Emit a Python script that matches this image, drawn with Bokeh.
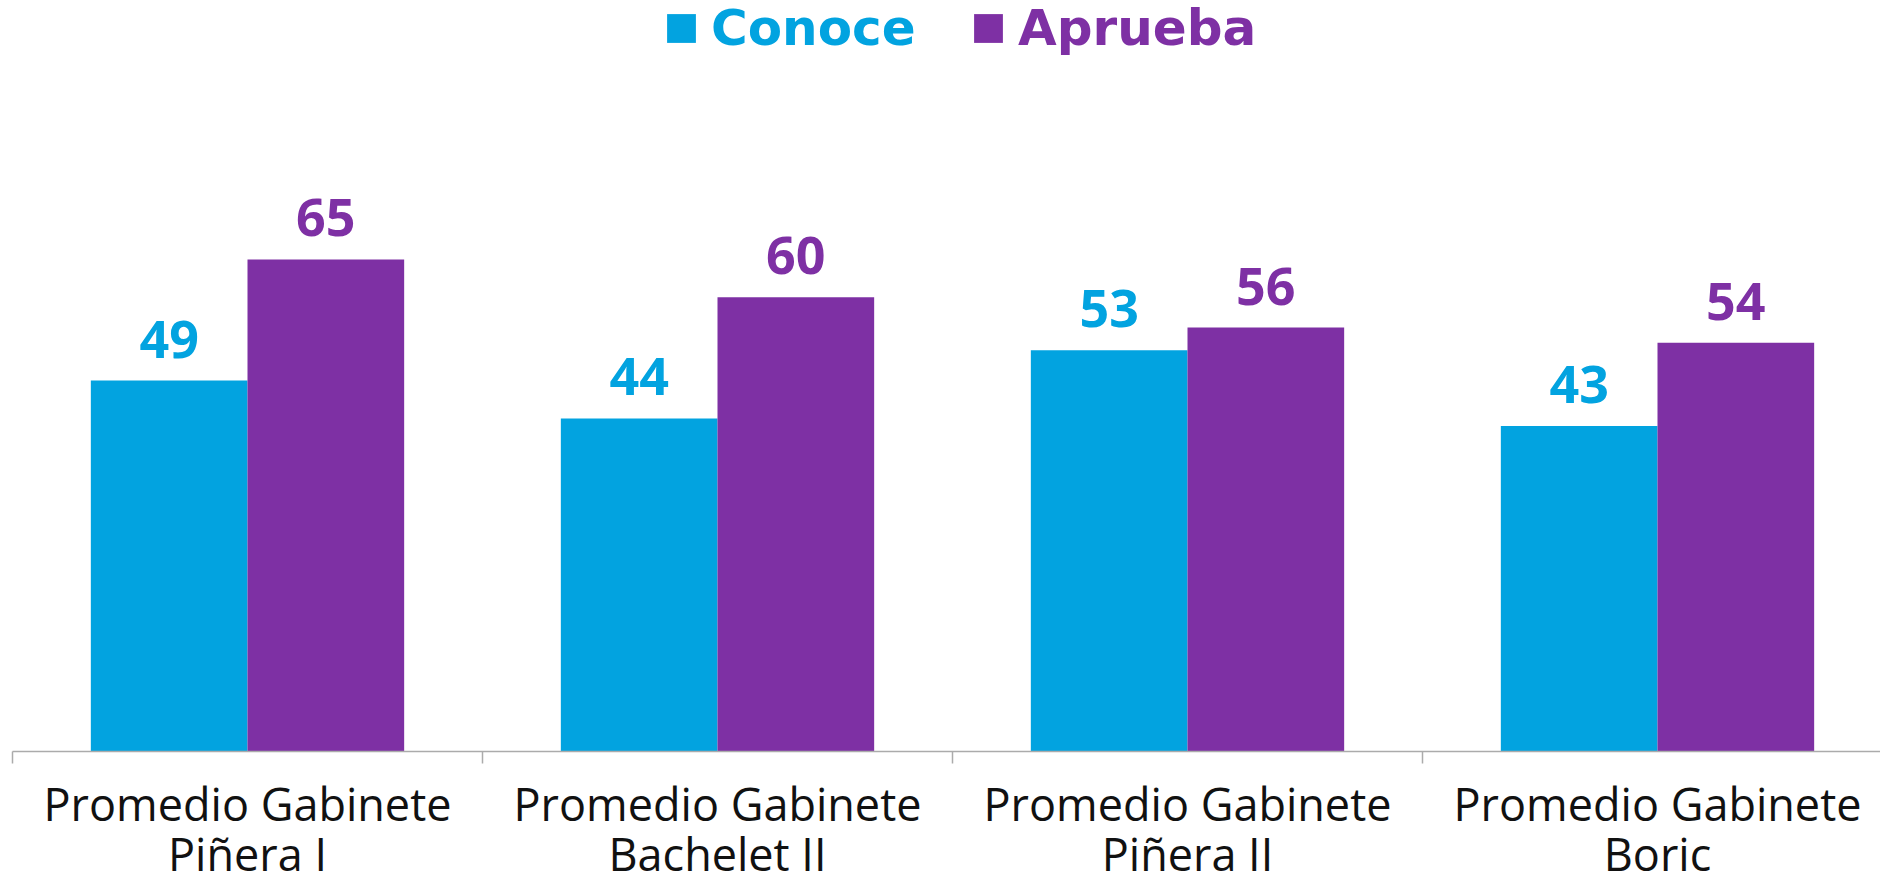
from bokeh.plotting import figure
from bokeh.models import (ColumnDataSource, Range1d, FixedTicker, Legend, LegendItem, LinearAxis)
from bokeh.transform import dodge
from bokeh.embed import file_html
from bokeh.resources import INLINE
from bokeh.core.properties import value

categories_line1 = ["Promedio Gabinete", "Promedio Gabinete",
                    "Promedio Gabinete", "Promedio Gabinete"]
categories_line2 = ["Piñera I", "Bachelet II", "Piñera II", "Boric"]
conoce = [49, 44, 53, 43]
aprueba = [65, 60, 56, 54]
series_names = ["Conoce", "Aprueba"]
colors = ["#02A3E0", "#7E30A4"]

centers = [i + 0.5 for i in range(len(categories_line1))]
src = ColumnDataSource(dict(x=centers, conoce=conoce, aprueba=aprueba,
                            conoce_txt=[str(v) for v in conoce],
                            aprueba_txt=[str(v) for v in aprueba]))

p = figure(width=1880, height=875, output_backend="svg", toolbar_location=None,
           x_range=Range1d(0, 1868 / 470), y_range=Range1d(0, 751 / 7.57),
           min_border_left=12, min_border_right=0, min_border_top=0, min_border_bottom=0)
p.frame_width = 1868
p.frame_height = 751
p.outline_line_color = None
p.grid.visible = False
p.yaxis.visible = False
p.background_fill_color = "white"

r1 = p.vbar(x=dodge("x", -1 / 6, range=p.x_range), top="conoce", width=1 / 3, source=src,
            fill_color=colors[0], line_color=None)
r2 = p.vbar(x=dodge("x", 1 / 6, range=p.x_range), top="aprueba", width=1 / 3, source=src,
            fill_color=colors[1], line_color=None)

p.text(x=dodge("x", -1 / 6, range=p.x_range), y="conoce", text="conoce_txt", source=src,
       text_align="center", text_baseline="bottom", y_offset=-23,
       text_font=value("Open Sans"), text_font_style="bold", text_font_size="52px",
       text_color=colors[0])
p.text(x=dodge("x", 1 / 6, range=p.x_range), y="aprueba", text="aprueba_txt", source=src,
       text_align="center", text_baseline="bottom", y_offset=-23,
       text_font=value("Open Sans"), text_font_style="bold", text_font_size="52px",
       text_color=colors[1])

ax = p.xaxis[0]
ax.ticker = FixedTicker(ticks=centers, minor_ticks=list(range(len(categories_line1) + 1)))
ax.major_label_overrides = {c: lab for c, lab in zip(centers, categories_line1)}
ax.major_tick_out = 0
ax.major_tick_in = 0
ax.minor_tick_out = 12
ax.minor_tick_in = 0
ax.minor_tick_line_color = "#ABABAB"
ax.minor_tick_line_width = 1.5
ax.axis_line_color = "#ABABAB"
ax.axis_line_width = 1.5
ax.major_label_text_font = "Open Sans"
ax.major_label_text_font_size = "45px"
ax.major_label_text_color = "#111111"
ax.major_label_standoff = 9

ax2 = LinearAxis(ticker=FixedTicker(ticks=centers, minor_ticks=[]),
                 major_label_overrides={c: lab for c, lab in zip(centers, categories_line2)},
                 axis_line_color=None, major_tick_line_color=None, minor_tick_line_color=None,
                 major_tick_out=0, major_tick_in=0, minor_tick_out=0, minor_tick_in=0,
                 major_label_text_font="Open Sans", major_label_text_font_size="45px",
                 major_label_text_color="#111111", major_label_standoff=-14)
p.add_layout(ax2, "below")

for r, name, col, xloc in [(r1, series_names[0], colors[0], 651), (r2, series_names[1], colors[1], 958)]:
    leg = Legend(items=[LegendItem(label=name, renderers=[r])], location=(xloc, 694),
                 orientation="horizontal", glyph_width=36, glyph_height=36,
                 label_text_font="DejaVu Sans", label_text_font_style="bold",
                 label_text_font_size="50px", label_text_color=col,
                 label_standoff=12, padding=0, margin=0, spacing=0,
                 border_line_color=None, background_fill_alpha=0)
    p.add_layout(leg, "center")

open("out.html", "w").write(file_html(p, INLINE))
